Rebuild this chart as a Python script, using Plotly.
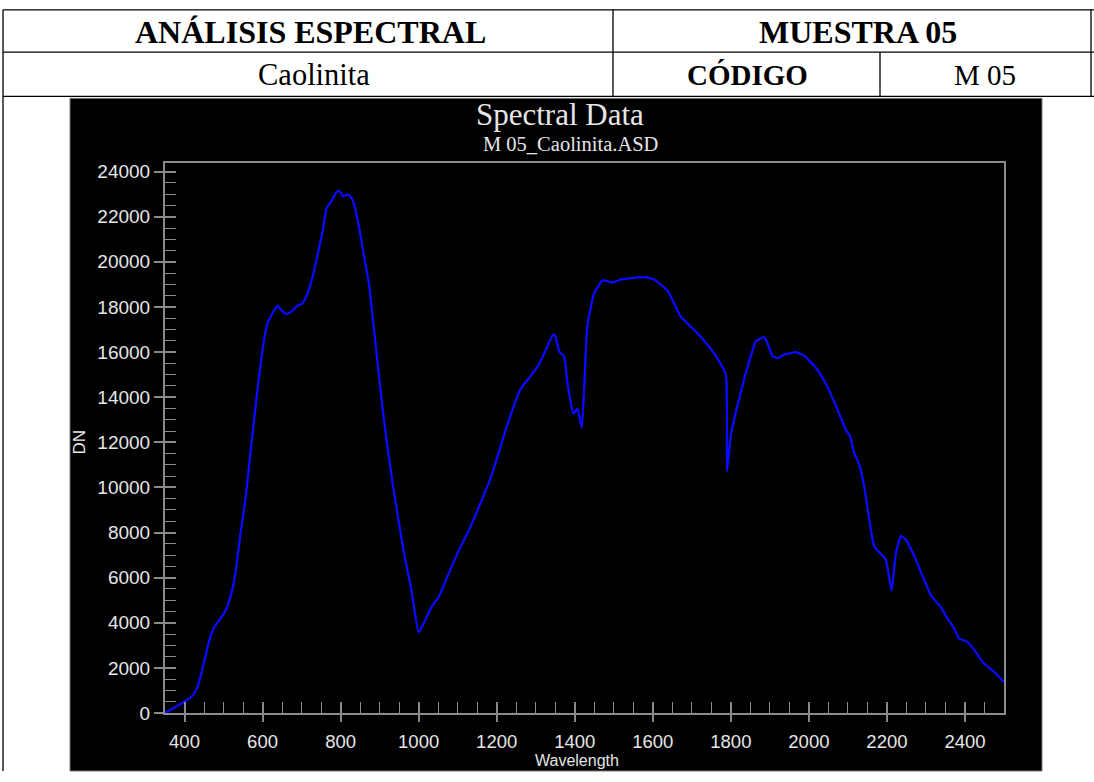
import plotly.graph_objects as go

# ---------------- data ----------------
wavelength = [350, 360, 380, 398, 420, 433, 445, 462, 475, 488, 505, 517, 530, 543, 555, 568,
              581, 594, 606, 615, 628, 638, 646, 660, 674, 687, 702, 713, 730, 742, 754, 764,
              777, 788, 796, 806, 819, 830, 844, 857, 873, 883, 896, 908, 921, 934, 947, 964,
              981, 1000, 1014, 1031, 1053, 1075, 1101, 1133, 1185, 1227, 1261, 1287, 1308, 1326,
              1345, 1351, 1360, 1373, 1381, 1397, 1407, 1418, 1424, 1432, 1449, 1471, 1497, 1518,
              1578, 1603, 1638, 1672, 1715, 1755, 1787, 1790, 1800, 1813, 1834, 1851, 1864, 1877,
              1885, 1894, 1907, 1920, 1937, 1967, 1988, 2018, 2044, 2069, 2095, 2106, 2116, 2129,
              2142, 2155, 2167, 2185, 2197, 2212, 2223, 2236, 2249, 2270, 2291, 2313, 2338, 2355,
              2372, 2385, 2403, 2420, 2446, 2476, 2500]
dn = [30, 100, 300, 480, 760, 1150, 1870, 3130, 3770, 4090, 4530, 5110, 6150, 7890, 9310, 11370,
      13430, 15330, 16760, 17390, 17790, 18060, 17900, 17680, 17790, 18030, 18150, 18500, 19450, 20400, 21350, 22380,
      22700, 23060, 23160, 22900, 22990, 22780, 21830, 20560, 18980, 17390, 15330, 13430, 11690, 10110, 8680, 6940,
      5510, 3580, 4010, 4640, 5200, 6100, 7130, 8260, 10440, 12760, 14360, 14940, 15450, 16100,
      16790, 16680, 16030, 15810, 14650, 13270, 13490, 12650, 14360, 17120, 18570, 19180, 19080, 19220,
      19330, 19220, 18720, 17560, 16830, 16000, 15020, 10730, 12300, 13340, 14800, 15810, 16470, 16610,
      16680, 16390, 15810, 15740, 15890, 15990, 15840, 15300, 14580, 13630, 12550, 12250, 11530, 11020,
      10010, 8550, 7390, 7030, 6810, 5430, 7100, 7850, 7680, 6960, 6090, 5210, 4700, 4200,
      3760, 3300, 3180, 2890, 2240, 1800, 1370]

x_tick_step = 200
x_minor_step = 50
y_tick_step = 2000
y_minor_step = 500
x_range = [350, 2500]
y_range = [0, 24370]

header_left = "ANÁLISIS ESPECTRAL"
header_right = "MUESTRA 05"
mineral = "Caolinita"
code_label = "CÓDIGO"
code_value = "M 05"
chart_title = "Spectral Data"
chart_subtitle = "M 05_Caolinita.ASD"
x_title = "Wavelength"
y_title = "DN"

# ---------------- layout helpers ----------------
W, H = 1094, 782


def px(x):
    return x / W


def py(y):
    return 1 - y / H


SERIF = "Liberation Serif, Times New Roman, serif"
SANS = "Liberation Sans, Arial, sans-serif"
AXIS_GRAY = "#8a8a8a"
LABEL = "#e6e6e6"
CURVE = "#0a0aff"

fig = go.Figure()
fig.add_trace(go.Scatter(x=wavelength, y=dn, mode="lines",
                         line=dict(color=CURVE, width=2, shape="spline", smoothing=0.4),
                         hoverinfo="x+y", showlegend=False))
fig.add_trace(go.Scatter(x=wavelength, y=dn, mode="lines", xaxis="x2", yaxis="y2",
                         line=dict(color=CURVE, width=2, shape="spline", smoothing=0.4),
                         hoverinfo="skip", showlegend=False))

shapes = []
# black picture area
shapes.append(dict(type="rect", xref="paper", yref="paper", x0=px(70), x1=px(1042), y0=py(782), y1=py(98),
                   fillcolor="black", line=dict(color="#777777", width=1), layer="below"))
# table lines
line_style = dict(color="black", width=1.3)
for (x0, y0, x1, y1) in [(3, 8, 1094, 8), (3, 51, 1094, 51), (3, 96, 1094, 96),
                         (3, 8, 3, 782), (613, 8, 613, 96), (880, 51, 880, 96), (1091, 8, 1091, 96)]:
    shapes.append(dict(type="line", xref="paper", yref="paper", x0=px(x0), x1=px(x1),
                       y0=py(y0), y1=py(y1), line=line_style, layer="above"))

annotations = []


def txt(text, x, y, size, bold=False, color="black", family=SERIF, angle=0, yanchor="middle"):
    annotations.append(dict(text=("<b>%s</b>" % text) if bold else text, x=px(x), y=py(y),
                            xref="paper", yref="paper", showarrow=False, xanchor="center",
                            yanchor=yanchor, textangle=angle, borderpad=0,
                            font=dict(family=family, size=size, color=color)))


txt(header_left, 310, 30, 32, bold=True)
txt(header_right, 858, 30, 32, bold=True)
txt(mineral, 314, 74, 30.5)
txt(code_label, 747, 74, 29, bold=True)
txt(code_value, 985, 74, 29)
txt(chart_title, 560, 114, 31, color=LABEL)
txt(chart_subtitle, 570, 144, 20.5, color=LABEL)
txt(x_title, 577, 781, 16, color=LABEL, family=SANS, yanchor="bottom")
txt(y_title, 80, 448, 17, color=LABEL, family=SANS, angle=-90)

x_dom = [px(165), px(1004)]
y_dom = [py(723), py(164)]

fig.update_layout(
    width=W, height=H,
    margin=dict(l=0, r=0, t=0, b=0),
    paper_bgcolor="white", plot_bgcolor="black",
    shapes=shapes, annotations=annotations,
    showlegend=False,
    xaxis=dict(domain=x_dom, range=x_range, showgrid=False, zeroline=False,
               showline=True, linecolor=AXIS_GRAY, linewidth=2, mirror=True,
               ticks="inside", ticklen=11, tickwidth=1.5, tickcolor=AXIS_GRAY,
               tick0=0, dtick=x_tick_step, showticklabels=False,
               minor=dict(ticks="inside", ticklen=11, tickwidth=1.2, tickcolor=AXIS_GRAY,
                          tick0=0, dtick=x_minor_step, showgrid=False)),
    yaxis=dict(domain=y_dom, range=y_range, showgrid=False, zeroline=False,
               showline=True, linecolor=AXIS_GRAY, linewidth=2, mirror=True,
               ticks="inside", ticklen=11, tickwidth=1.5, tickcolor=AXIS_GRAY,
               tick0=0, dtick=y_tick_step, showticklabels=False,
               minor=dict(ticks="inside", ticklen=11, tickwidth=1.2, tickcolor=AXIS_GRAY,
                          tick0=0, dtick=y_minor_step, showgrid=False)),
    xaxis2=dict(overlaying="x", anchor="y2", side="bottom", range=x_range,
                showgrid=False, zeroline=False, showline=False,
                ticks="outside", ticklen=8, tickwidth=1.5, tickcolor=AXIS_GRAY,
                tick0=0, dtick=x_tick_step, showticklabels=True, ticklabelstandoff=4,
                tickformat="d",
                tickfont=dict(family=SANS, size=18.5, color=LABEL)),
    yaxis2=dict(overlaying="y", anchor="x2", side="left", range=y_range,
                showgrid=False, zeroline=False, showline=False,
                ticks="outside", ticklen=10, tickwidth=1.5, tickcolor=AXIS_GRAY,
                tick0=0, dtick=y_tick_step, showticklabels=True, tickformat="d",
                tickfont=dict(family=SANS, size=19, color=LABEL)),
)

fig.write_html("out.html", config={"displayModeBar": False},
               post_script="document.body.style.margin='0';document.body.style.overflow='hidden';")
